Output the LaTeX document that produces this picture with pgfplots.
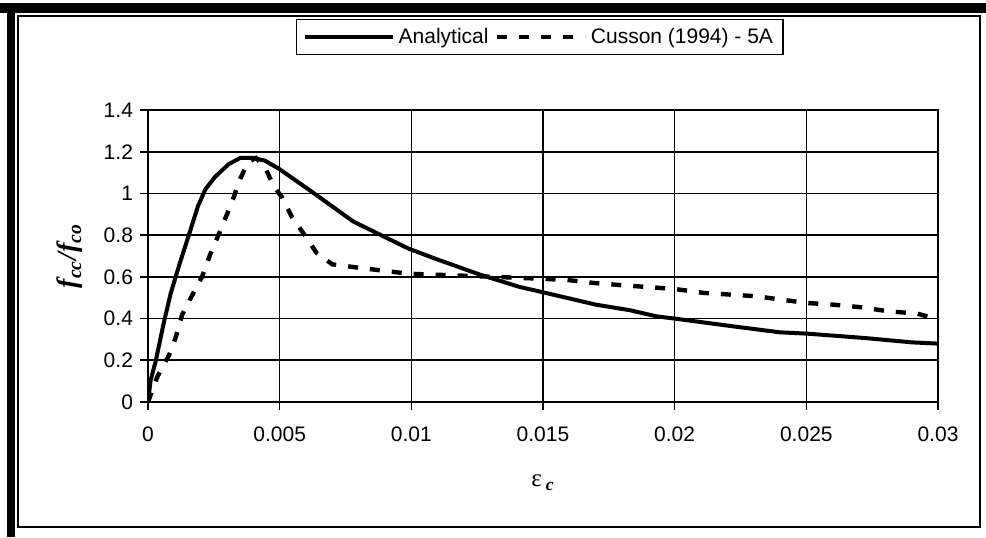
\documentclass[border=0pt]{standalone}
\usepackage{fontspec}
\setmainfont{Liberation Sans}
\newfontfamily\serif{Liberation Serif}
\usepackage{pgfplots}
\pgfplotsset{compat=1.18}

\begin{document}
\begin{tikzpicture}
\useasboundingbox (0,0) rectangle (493pt,268.5pt);
% scan frame
\fill[black] (0,262pt) rectangle (493pt,267pt);
\fill[black] (3.5pt,0) rectangle (7.5pt,267pt);
\draw[black, line width=0.6pt] (9pt,5pt) rectangle (490pt,260.5pt);

\begin{axis}[
  at={(74pt,67.5pt)}, anchor=south west,
  scale only axis,
  width=395pt, height=146pt,
  xmin=0, xmax=0.03, ymin=0, ymax=1.4,
  xtick={0,0.005,0.01,0.015,0.02,0.025,0.03},
  xticklabels={0,0.005,0.01,0.015,0.02,0.025,0.03},
  ytick={0,0.2,0.4,0.6,0.8,1,1.2,1.4},
  yticklabels={0,0.2,0.4,0.6,0.8,1,1.2,1.4},
  scaled x ticks=false,
  tick align=outside, major tick length=4pt,
  xtick pos=left, ytick pos=left,
  tick style={black, line width=0.8pt},
  axis line style={black, line width=0.8pt},
  grid=major,
  major grid style={black, line width=0.8pt},
  x tick label style={yshift=-5pt, font=\fontsize{10.5}{12}\selectfont},
  y tick label style={font=\fontsize{10.5}{12}\selectfont},
  xlabel={{\serif ε}\,\textsubscript{\serif\bfseries\itshape c}},
  xlabel style={at={(axis description cs:0.5,-0.277)}, anchor=center, font=\fontsize{12.5}{14}\selectfont},
  ylabel={{\serif\bfseries\itshape f}\textsubscript{\serif\bfseries\itshape cc}{\serif\bfseries\itshape /f}\textsubscript{\serif\bfseries\itshape co}},
  ylabel style={at={(axis description cs:-0.0987,0.5)}, anchor=center, font=\fontsize{14}{16}\selectfont},
  legend columns=2,
  legend style={at={(axis description cs:0.496,1.25)}, anchor=center,
    draw=black, line width=0.6pt, fill=white,
    font=\fontsize{10.5}{12}\selectfont, inner xsep=3pt, inner ysep=2pt,
    /tikz/every even column/.append style={column sep=1pt}},
  legend image code/.code={\draw[#1] (0pt,0pt) -- (44pt,0pt);},
]
\addplot[black, line width=2pt] coordinates {
(0,0) (0.0001,0.104) (0.0003,0.20) (0.0006,0.38) (0.00086,0.52)
(0.00117,0.65) (0.00155,0.80) (0.0019,0.94) (0.00218,1.02)
(0.00255,1.08) (0.00306,1.14) (0.0035,1.17) (0.0040,1.17)
(0.00444,1.157) (0.005,1.116) (0.0062,1.01) (0.0078,0.865)
(0.0099,0.735) (0.0110,0.683) (0.0126,0.611) (0.0141,0.552)
(0.015,0.526) (0.0170,0.467) (0.0183,0.44) (0.0193,0.411)
(0.020,0.40) (0.0222,0.363) (0.0240,0.334) (0.025,0.328)
(0.0272,0.307) (0.029,0.286) (0.030,0.28)
};
\addlegendentry{Analytical}
\addplot[black, line width=2.2pt, dash pattern=on 5pt off 6pt] coordinates {
(0,0) (0.00035,0.12) (0.0008,0.225) (0.00104,0.305) (0.0013,0.42)
(0.00167,0.51) (0.00205,0.60) (0.00236,0.707) (0.00274,0.82)
(0.0030,0.90) (0.00325,0.98) (0.0035,1.07) (0.0038,1.15)
(0.0041,1.17) (0.00444,1.125) (0.0048,1.03) (0.0051,0.98)
(0.00545,0.89) (0.00595,0.80) (0.0064,0.715) (0.0070,0.66)
(0.0078,0.647) (0.0089,0.63) (0.0099,0.615) (0.011,0.61)
(0.0132,0.60) (0.0151,0.59) (0.016,0.584) (0.0169,0.571)
(0.018,0.56) (0.0191,0.55) (0.020,0.542) (0.0211,0.523)
(0.0231,0.507) (0.0241,0.49) (0.025,0.475) (0.026,0.467)
(0.0271,0.454) (0.0281,0.435) (0.0292,0.424) (0.0296,0.41)
(0.030,0.424)
};
\addlegendentry{Cusson (1994) - 5A}
\end{axis}
\end{tikzpicture}
\end{document}
